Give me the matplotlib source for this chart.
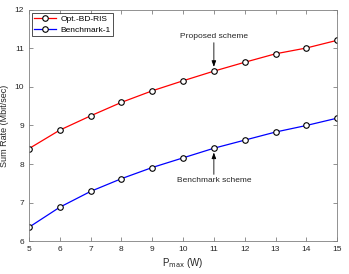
import numpy as np
import matplotlib.pyplot as plt

p_max = [5, 6, 7, 8, 9, 10, 11, 12, 13, 14, 15]
opt_bd_ris = [8.40, 8.88, 9.25, 9.60, 9.90, 10.16, 10.41, 10.64, 10.86, 11.01, 11.21]
benchmark1 = [6.36, 6.88, 7.29, 7.62, 7.91, 8.16, 8.41, 8.62, 8.83, 9.00, 9.19]

plt.rcParams['font.family'] = ['Liberation Sans', 'DejaVu Sans']
plt.rcParams['font.size'] = 6

fig = plt.figure(figsize=(3.49, 2.74), dpi=100)
ax = fig.add_axes([0.083, 0.120, 0.883, 0.844])

ax.plot(p_max, opt_bd_ris, color='#ff0000', lw=0.9, marker='o', ms=4,
        mfc='white', mec='black', mew=0.8, label='Opt.-BD-RIS')
ax.plot(p_max, benchmark1, color='#0000ff', lw=0.9, marker='o', ms=4,
        mfc='white', mec='black', mew=0.8, label='Benchmark-1')

ax.set_xlim(5, 15)
ax.set_ylim(6, 12)
ax.set_xticks(range(5, 16))
ax.set_yticks(range(6, 13))

gray = '#262626'
for s in ax.spines.values():
    s.set_color('#808080')
    s.set_linewidth(0.6)
ax.tick_params(direction='in', length=3, width=0.6, color='#808080',
               labelcolor=gray, top=True, right=True, labelsize=6)

ax.set_xlabel(r'P$_{\mathrm{max}}$ (W)', color=gray, fontsize=7, labelpad=2)
ax.set_ylabel('Sum Rate (Mbit/sec)', color=gray, fontsize=6.5, labelpad=4)

ax.annotate('Proposed scheme', xy=(11, 10.52), xytext=(11, 11.22),
            ha='center', va='bottom', fontsize=6, color=gray,
            arrowprops=dict(arrowstyle='-|>,head_length=0.6,head_width=0.22',
                            color='black', lw=0.6, shrinkA=0, shrinkB=0))
ax.annotate('Benchmark scheme', xy=(11, 8.30), xytext=(11, 7.66),
            ha='center', va='top', fontsize=6, color=gray,
            arrowprops=dict(arrowstyle='-|>,head_length=0.6,head_width=0.22',
                            color='black', lw=0.6, shrinkA=0, shrinkB=0))

leg = ax.legend(loc='upper left', fontsize=6, frameon=True, fancybox=False,
                borderaxespad=0.35, handlelength=2.6, handletextpad=0.5,
                borderpad=0.3, labelspacing=0.35)
leg.get_frame().set_edgecolor('black')
leg.get_frame().set_linewidth(0.6)

fig.savefig('out.png', dpi=100)
